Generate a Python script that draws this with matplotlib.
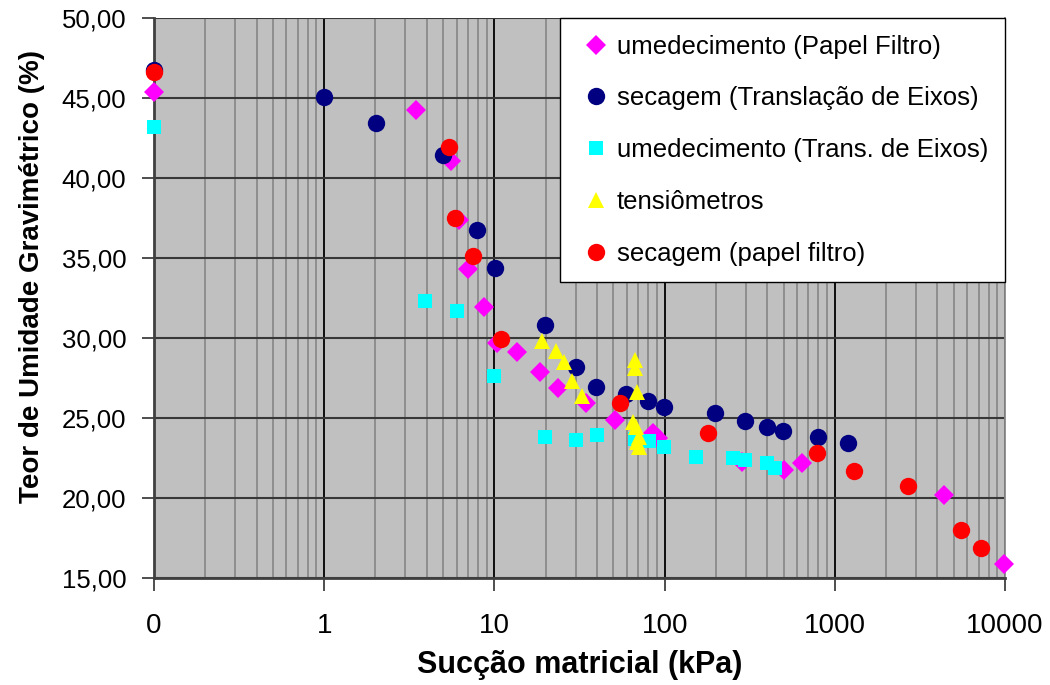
import numpy as np
import matplotlib.pyplot as plt
from matplotlib.ticker import FixedLocator, FuncFormatter, LogLocator, NullFormatter

plt.rcParams['font.family'] = ['Liberation Sans', 'DejaVu Sans']

# umedecimento (Papel Filtro)
x_umed_pf = [0.1, 3.48, 5.58, 6.2, 7.0, 8.73, 10.3, 13.6, 18.4, 23.5, 34.3, 50.8,
             85, 92, 284, 501, 640, 4375, 9860]
y_umed_pf = [45.4, 44.25, 41.06, 37.4, 34.3, 31.94, 29.7, 29.1, 27.9, 26.9, 25.94, 24.9,
             24.06, 23.75, 22.25, 21.75, 22.2, 20.2, 15.9]

# secagem (Translacao de Eixos)
x_sec_te = [0.1, 1.0, 2.02, 5.0, 7.94, 10.1, 19.7, 30.3, 39.3, 59, 79.4, 98.6,
            197, 295, 398, 494, 794, 1191]
y_sec_te = [46.75, 45.06, 43.44, 41.44, 36.75, 34.4, 30.8, 28.2, 26.94, 26.5, 26.06, 25.7,
            25.3, 24.8, 24.44, 24.2, 23.8, 23.44]

# umedecimento (Trans. de Eixos)
x_umed_te = [0.1, 3.93, 6.05, 10.0, 19.7, 30.3, 39.8, 67, 80.6, 98.6,
             152, 251, 295, 398, 444]
y_umed_te = [43.2, 32.3, 31.7, 27.6, 23.8, 23.6, 23.94, 23.7, 23.56, 23.2,
             22.56, 22.5, 22.4, 22.2, 21.9]

# tensiometros
x_tens = [18.9, 22.9, 25.5, 28.4, 32.5, 66.6, 66.6, 68.4, 64.8, 67.5, 70.3, 70.3, 69.0]
y_tens = [29.8, 29.2, 28.5, 27.3, 26.4, 28.6, 28.1, 26.6, 24.75, 24.44, 23.8, 23.2, 23.5]

# secagem (papel filtro)
x_sec_pf = [0.1, 5.43, 5.9, 7.5, 11.0, 54.3, 179, 783, 1295, 2690, 5510, 7220]
y_sec_pf = [46.6, 41.94, 37.5, 35.1, 29.94, 25.94, 24.06, 22.8, 21.7, 20.75, 18.0, 16.9]

x_ticks = [0.1, 1, 10, 100, 1000, 10000]
x_tick_labels = ['0', '1', '10', '100', '1000', '10000']
y_ticks = [15, 20, 25, 30, 35, 40, 45, 50]

fig = plt.figure(figsize=(10.5, 6.85), dpi=100)
ax = fig.add_axes([0.1467, 0.1562, 0.8105, 0.8175])
ax.set_facecolor('#c0c0c0')

kw = dict(linestyle='none', markeredgewidth=0, clip_on=False)
ax.plot(x_umed_pf, y_umed_pf, 'D', color='#ff00ff', markersize=10.5,
        label='umedecimento (Papel Filtro)', zorder=3, **kw)
ax.plot(x_sec_te, y_sec_te, 'o', color='#000080', markersize=12.5,
        label='secagem (Translação de Eixos)', zorder=4, **kw)
ax.plot(x_umed_te, y_umed_te, 's', color='#00ffff', markersize=9.5,
        label='umedecimento (Trans. de Eixos)', zorder=5, **kw)
ax.plot(x_tens, y_tens, '^', color='#ffff00', markersize=11,
        label='tensiômetros', zorder=6, **kw)
ax.plot(x_sec_pf, y_sec_pf, 'o', color='#ff0000', markersize=12.5,
        label='secagem (papel filtro)', zorder=7, **kw)

ax.set_xscale('log')
ax.set_xlim(0.1, 10000)
ax.set_ylim(15, 50)

ax.xaxis.set_major_locator(FixedLocator(x_ticks))
ax.set_xticklabels(x_tick_labels)
ax.xaxis.set_minor_locator(LogLocator(base=10, subs=np.arange(2, 10)))
ax.xaxis.set_minor_formatter(NullFormatter())
ax.set_yticks(y_ticks)
ax.yaxis.set_major_formatter(FuncFormatter(lambda v, p: f'{v:.2f}'.replace('.', ',')))

ax.set_axisbelow(True)
ax.grid(which='major', axis='y', color='#383838', linewidth=1.5)
ax.grid(which='major', axis='x', color='black', linewidth=1.3)
ax.grid(which='minor', axis='x', color='#8a8a8a', linewidth=1.3)

ax.tick_params(axis='x', which='major', length=9, width=1.2, color='#303030',
               labelsize=20, pad=16)
ax.tick_params(axis='x', which='minor', length=0)
ax.tick_params(axis='y', which='major', length=9, width=1.2, color='#303030',
               labelsize=18.5, pad=11)

ax.spines['top'].set_visible(False)
ax.spines['right'].set_color('#8a8a8a')
ax.spines['right'].set_linewidth(1.3)
ax.spines['left'].set_color('#404040')
ax.spines['left'].set_linewidth(2)
ax.spines['bottom'].set_color('#404040')
ax.spines['bottom'].set_linewidth(2)

ax.set_xlabel('Sucção matricial (kPa)', fontsize=22, fontweight='bold')
ax.xaxis.set_label_coords(0.5, -0.128)
ax.set_ylabel('Teor de Umidade Gravimétrico (%)', fontsize=20, fontweight='bold')
ax.yaxis.set_label_coords(-0.128, 0.539)

leg = ax.legend(loc='upper right', bbox_to_anchor=(1.0, 1.0), borderaxespad=0,
                fontsize=18.5, frameon=True, fancybox=False, framealpha=1,
                edgecolor='black', borderpad=0.65, labelspacing=1.08,
                handlelength=1.47, handletextpad=0.1, numpoints=1)
leg.get_frame().set_linewidth(1.0)
leg.set_zorder(10)

plt.savefig('out.png', dpi=100)
